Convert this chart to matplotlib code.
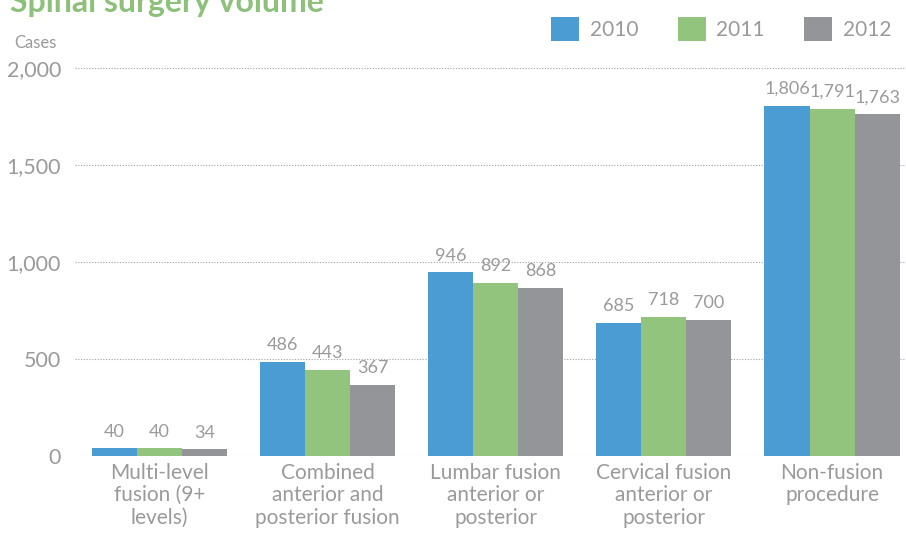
import matplotlib.pyplot as plt
import matplotlib as mpl
import numpy as np
from matplotlib import rcParams

rcParams['font.family'] = ['Lato', 'DejaVu Sans']

# data
categories = ['Multi-level\nfusion (9+\nlevels)',
              'Combined\nanterior and\nposterior fusion',
              'Lumbar fusion\nanterior or\nposterior',
              'Cervical fusion\nanterior or\nposterior',
              'Non-fusion\nprocedure']
years = ['2010', '2011', '2012']
v2010 = [40, 486, 946, 685, 1806]
v2011 = [40, 443, 892, 718, 1791]
v2012 = [34, 367, 868, 700, 1763]

colors = ['#4A9CD3', '#93C47D', '#939598']
txt_gray = '#9A9A9A'

fig = plt.figure(figsize=(9.06, 5.33), dpi=100)
ax = fig.add_axes([75 / 906, 77 / 533, 1 - 75 / 906, 388 / 533])

x = np.arange(len(categories))
w = 0.268
for i, (vals, yr, c) in enumerate(zip([v2010, v2011, v2012], years, colors)):
    bars = ax.bar(x + (i - 1) * w, vals, w, color=c, label=yr, zorder=3)
    for b, v in zip(bars, vals):
        ax.text(b.get_x() + b.get_width() / 2, v + 45, f'{v:,}', ha='center', va='bottom',
                fontsize=13, color=txt_gray)

ax.set_xlim(-0.503, 4.44)
ax.set_ylim(0, 2000)
ax.set_yticks([0, 500, 1000, 1500, 2000])
ax.set_yticklabels(['0', '500', '1,000', '1,500', '2,000'])
ax.grid(axis='y', linestyle=(0, (1, 1.5)), color='#A0A0A0', linewidth=0.8, zorder=0)
ax.set_xticks(x)
ax.set_xticklabels(categories, fontsize=15, color=txt_gray, linespacing=1.15)
ax.tick_params(axis='x', length=0, pad=5)
ax.tick_params(axis='y', length=0, pad=10, labelsize=15.5, labelcolor=txt_gray)
for s in ax.spines.values():
    s.set_visible(False)

fig.text(14 / 906, 1 - 35 / 533, 'Cases', fontsize=12, color=txt_gray, ha='left', va='top')
fig.text(10 / 906, 1 + 12 / 533, 'Spinal surgery volume', fontsize=23, fontweight='bold',
         color='#8DC07A', ha='left', va='top')

leg = fig.legend(loc='upper right', bbox_to_anchor=(1.0 + 4 / 906, 1.0 + 2 / 533), ncol=3,
                 frameon=False, fontsize=15, handlelength=1.35, handleheight=1.4,
                 columnspacing=1.9, handletextpad=0.5)
for t in leg.get_texts():
    t.set_color(txt_gray)

plt.savefig('out.png', dpi=100)
